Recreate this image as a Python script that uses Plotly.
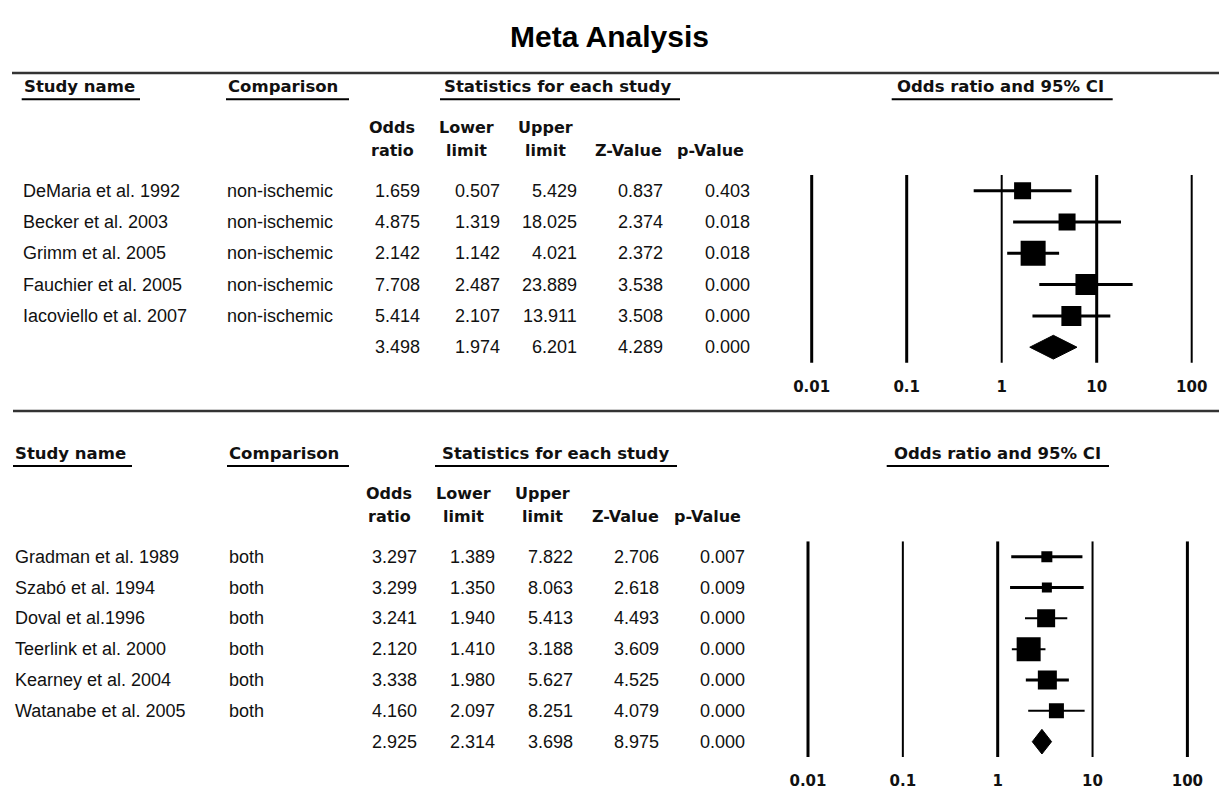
import plotly.graph_objects as go

W, H = 1219, 791

# ------------------------------------------------------------------ data
title_text = "Meta Analysis"
col_headers_1 = ["Odds", "Lower", "Upper", "", ""]
col_headers_2 = ["ratio", "limit", "limit", "Z-Value", "p-Value"]
section_headers = ["Study name", "Comparison", "Statistics for each study", "Odds ratio and 95% CI"]

top_studies = ["DeMaria et al. 1992", "Becker et al. 2003", "Grimm et al. 2005",
               "Fauchier et al. 2005", "Iacoviello et al. 2007"]
top_comparison = ["non-ischemic", "non-ischemic", "non-ischemic", "non-ischemic", "non-ischemic"]
top_or = [1.659, 4.875, 2.142, 7.708, 5.414]
top_lower = [0.507, 1.319, 1.142, 2.487, 2.107]
top_upper = [5.429, 18.025, 4.021, 23.889, 13.911]
top_z = [0.837, 2.374, 2.372, 3.538, 3.508]
top_p = [0.403, 0.018, 0.018, 0.000, 0.000]
top_summary = [3.498, 1.974, 6.201, 4.289, 0.000]   # OR, lower, upper, Z, p

bottom_studies = ["Gradman et al. 1989", "Szabó et al. 1994", "Doval et al.1996",
                  "Teerlink et al. 2000", "Kearney et al. 2004", "Watanabe et al. 2005"]
bottom_comparison = ["both", "both", "both", "both", "both", "both"]
bottom_or = [3.297, 3.299, 3.241, 2.120, 3.338, 4.160]
bottom_lower = [1.389, 1.350, 1.940, 1.410, 1.980, 2.097]
bottom_upper = [7.822, 8.063, 5.413, 3.188, 5.627, 8.251]
bottom_z = [2.706, 2.618, 4.493, 3.609, 4.525, 4.079]
bottom_p = [0.007, 0.009, 0.000, 0.000, 0.000, 0.000]
bottom_summary = [2.925, 2.314, 3.698, 8.975, 0.000]

tick_values = [0.01, 0.1, 1, 10, 100]
tick_labels = ["0.01", "0.1", "1", "10", "100"]

# ------------------------------------------------------------------ styles / geometry
REG_FONT = "Liberation Sans, Arial, sans-serif"
BOLD_FONT = "DejaVu Sans, Verdana, sans-serif"
TITLE_FONT = "Liberation Sans, Arial, sans-serif"
INK = "#111111"

panels = [
    dict(studies=top_studies, comp=top_comparison, orr=top_or, lo=top_lower, up=top_upper,
         z=top_z, p=top_p, summ=top_summary,
         row0=190.7, step=31.3, one_px=1001.7, dec_px=95.0,
         name_x=21, comp_x=225, col_right=[422, 502, 579, 665, 752],
         col_center=[392, 466, 545, 628, 710], head_y=86.7, sub_y=[127, 150], ul_y=99.3,
         ul=[(21.7, 140), (226, 349), (440, 680), (891.7, 1112.7)],
         head_x=[21.7, 226, 557, 1000.5],
         box=[17, 17, 25, 21, 20], ciw=[3, 3, 3, 3, 3], gridw=[3, 3, 2, 3, 2], dh=0.38),
    dict(studies=bottom_studies, comp=bottom_comparison, orr=bottom_or, lo=bottom_lower,
         up=bottom_upper, z=bottom_z, p=bottom_p, summ=bottom_summary,
         row0=556.7, step=30.83, one_px=997.7, dec_px=94.85,
         name_x=13, comp_x=227, col_right=[419, 497, 575, 661, 747],
         col_center=[389, 463, 542, 625, 707], head_y=453, sub_y=[493, 516], ul_y=466,
         ul=[(13, 132), (227, 349), (435, 677), (886.7, 1109)],
         head_x=[13, 227, 555, 997.5],
         box=[11, 10, 18, 24, 19, 15], ciw=[3, 3, 2, 2, 3, 2], gridw=[3, 2, 3, 2, 3], dh=0.40),
]

fig = go.Figure()
annotations = []
layout_axes = {}
LOGPAD = 2.2
TICK_ROW_OFFSET = 1.32
ROW_PAD_BOTTOM = 1.5


def bold(size):
    return dict(family=BOLD_FONT, size=size, color=INK, weight="bold")


for k, P in enumerate(panels):
    xa = "x" if k == 0 else "x2"
    ya = "y" if k == 0 else "y2"
    n = len(P["studies"])
    px_l = P["one_px"] - LOGPAD * P["dec_px"]
    px_r = P["one_px"] + LOGPAD * P["dec_px"]
    py_t = P["row0"] - 0.5 * P["step"]
    py_b = P["row0"] + (n + ROW_PAD_BOTTOM) * P["step"]
    layout_axes["xaxis" if k == 0 else "xaxis2"] = dict(
        type="log", range=[-LOGPAD, LOGPAD], domain=[px_l / W, px_r / W],
        anchor=ya, visible=False, fixedrange=True)
    layout_axes["yaxis" if k == 0 else "yaxis2"] = dict(
        range=[n + ROW_PAD_BOTTOM, -0.5],
        domain=[max(0.0, 1 - py_b / H), min(1.0, 1 - py_t / H)],
        anchor=xa, visible=False, fixedrange=True)

    # vertical reference lines
    for tv, gw in zip(tick_values, P["gridw"]):
        fig.add_trace(go.Scatter(x=[tv, tv], y=[-0.5, n + 0.5], mode="lines",
                                 line=dict(color="black", width=gw),
                                 xaxis=xa, yaxis=ya, hoverinfo="skip", cliponaxis=False))
    # tick labels
    fig.add_trace(go.Scatter(x=tick_values, y=[n + TICK_ROW_OFFSET] * len(tick_values),
                             mode="text", text=tick_labels, textposition="middle center",
                             textfont=bold(15),
                             xaxis=xa, yaxis=ya, hoverinfo="skip", cliponaxis=False))
    # CI lines
    for i in range(n):
        fig.add_trace(go.Scatter(x=[P["lo"][i], P["up"][i]], y=[i, i], mode="lines",
                                 line=dict(color="black", width=P["ciw"][i]),
                                 xaxis=xa, yaxis=ya, hoverinfo="skip"))
    # squares
    fig.add_trace(go.Scatter(x=P["orr"], y=list(range(n)), mode="markers",
                             marker=dict(symbol="square", size=P["box"], color="black",
                                         opacity=1, line=dict(width=0)),
                             xaxis=xa, yaxis=ya, hoverinfo="skip"))
    # summary diamond
    s_or, s_lo, s_up = P["summ"][0], P["summ"][1], P["summ"][2]
    fig.add_trace(go.Scatter(x=[s_lo, s_or, s_up, s_or, s_lo],
                             y=[n, n - P["dh"], n, n + P["dh"], n],
                             mode="lines", fill="toself", fillcolor="black",
                             line=dict(color="black", width=1),
                             xaxis=xa, yaxis=ya, hoverinfo="skip"))

    # table cells
    for i in range(n + 1):
        if i < n:
            annotations.append(dict(x=P["name_x"], y=i, xref="x3", yref=ya, text=P["studies"][i],
                                    xanchor="left", yanchor="middle", showarrow=False,
                                    font=dict(family=REG_FONT, size=18, color=INK)))
            annotations.append(dict(x=P["comp_x"], y=i, xref="x3", yref=ya, text=P["comp"][i],
                                    xanchor="left", yanchor="middle", showarrow=False,
                                    font=dict(family=REG_FONT, size=18, color=INK)))
            vals = [P["orr"][i], P["lo"][i], P["up"][i], P["z"][i], P["p"][i]]
        else:
            vals = P["summ"]
        for cx, v in zip(P["col_right"], vals):
            annotations.append(dict(x=cx, y=i, xref="x3", yref=ya, text=f"{v:.3f}",
                                    xanchor="right", yanchor="middle", showarrow=False,
                                    font=dict(family=REG_FONT, size=18, color=INK)))

    # section headers
    for j, (txt, hx) in enumerate(zip(section_headers, P["head_x"])):
        annotations.append(dict(x=hx, y=P["head_y"], xref="x3", yref="y3", text=txt,
                                xanchor="left" if j < 2 else "center", yanchor="middle",
                                showarrow=False, font=bold(16.5)))
    # column headers
    for cx, h1, h2 in zip(P["col_center"], col_headers_1, col_headers_2):
        if h1:
            annotations.append(dict(x=cx, y=P["sub_y"][0], xref="x3", yref="y3", text=h1,
                                    xanchor="center", yanchor="middle", showarrow=False,
                                    font=bold(16)))
        annotations.append(dict(x=cx, y=P["sub_y"][1], xref="x3", yref="y3", text=h2,
                                xanchor="center", yanchor="middle", showarrow=False,
                                font=bold(16)))
    # underlines
    ux, uy = [], []
    for a, b in P["ul"]:
        ux += [a, b, None]
        uy += [P["ul_y"], P["ul_y"], None]
    fig.add_trace(go.Scatter(x=ux, y=uy, mode="lines", line=dict(color="black", width=2),
                             xaxis="x3", yaxis="y3", hoverinfo="skip"))

# separator rules
fig.add_trace(go.Scatter(x=[12, 1219, None, 13, 1219], y=[73, 73, None, 411, 411],
                         mode="lines", line=dict(color="#333333", width=2.5),
                         xaxis="x3", yaxis="y3", hoverinfo="skip", cliponaxis=False))

annotations.append(dict(x=609.5, y=36, xref="x3", yref="y3", text=title_text,
                        xanchor="center", yanchor="middle", showarrow=False,
                        font=dict(family=TITLE_FONT, size=30, color="black", weight="bold")))

fig.update_layout(
    width=W, height=H, autosize=False,
    margin=dict(l=0, r=0, t=0, b=0, pad=0),
    paper_bgcolor="white", plot_bgcolor="rgba(0,0,0,0)",
    showlegend=False, hovermode=False,
    xaxis3=dict(range=[0, W], domain=[0, 1], anchor="y3", visible=False, fixedrange=True),
    yaxis3=dict(range=[H, 0], domain=[0, 1], anchor="x3", visible=False, fixedrange=True),
    annotations=annotations,
    **layout_axes,
)

fig.write_html("out.html", config={"displayModeBar": False},
               post_script="document.body.style.margin='0';document.body.style.overflow='hidden';")
